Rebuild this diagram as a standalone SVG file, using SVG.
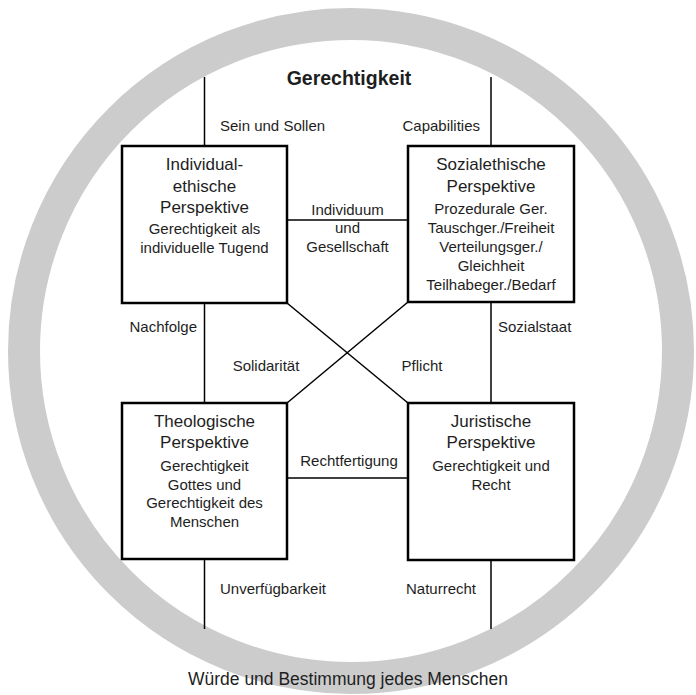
<svg xmlns="http://www.w3.org/2000/svg" width="696" height="695" viewBox="0 0 696 695">
<style>
text{font-family:"Liberation Sans",Arial,sans-serif;fill:#1e1e1e}
.t{font-size:17px;text-anchor:middle}
.s{font-size:15px;text-anchor:middle}
.l{font-size:15px}
.box{fill:#fff;stroke:#000;stroke-width:2.5}
.c{stroke:#000;stroke-width:1.5;fill:none}
</style>
<circle id="ring" cx="351" cy="351" r="327" fill="none" stroke="#cccccc" stroke-width="32"/>
<g id="connectors">
<line class="c" x1="204.5" y1="77" x2="204.5" y2="146"/>
<line class="c" x1="491" y1="77" x2="491" y2="146"/>
<line class="c" x1="204.5" y1="303" x2="204.5" y2="403"/>
<line class="c" x1="491" y1="303" x2="491" y2="403"/>
<line class="c" x1="204.5" y1="559" x2="204.5" y2="629"/>
<line class="c" x1="491" y1="560" x2="491" y2="629"/>
<line class="c" x1="287" y1="220" x2="408" y2="220"/>
<line class="c" x1="287" y1="478" x2="408" y2="478"/>
<line class="c" x1="287" y1="303" x2="408" y2="403"/>
<line class="c" x1="408" y1="302" x2="287" y2="403"/>
</g>
<g id="labels">
<text x="349" y="85" style="font-size:19.5px;font-weight:bold;text-anchor:middle">Gerechtigkeit</text>
<text class="l" x="220" y="131">Sein und Sollen</text>
<text class="l" x="480" y="131" text-anchor="end">Capabilities</text>
<text class="s" x="347.5" y="215">Individuum</text>
<text class="s" x="347.5" y="233">und</text>
<text class="s" x="347.5" y="252">Gesellschaft</text>
<text class="l" x="197" y="332" text-anchor="end">Nachfolge</text>
<text class="l" x="498" y="332">Sozialstaat</text>
<text class="s" x="266" y="371">Solidarität</text>
<text class="s" x="422" y="371">Pflicht</text>
<text class="s" x="349" y="466">Rechtfertigung</text>
<text class="l" x="220" y="594">Unverfügbarkeit</text>
<text class="l" x="476" y="594" text-anchor="end">Naturrecht</text>
<text x="348" y="685" style="font-size:17.5px;text-anchor:middle">Würde und Bestimmung jedes Menschen</text>
</g>
<g id="individual">
<rect class="box" x="122" y="146" width="165" height="157"/>
<text class="t" x="204.5" y="170">Individual-</text>
<text class="t" x="204.5" y="191.5">ethische</text>
<text class="t" x="204.5" y="213">Perspektive</text>
<text class="s" x="204.5" y="234">Gerechtigkeit als</text>
<text class="s" x="204.5" y="253">individuelle Tugend</text>
</g>
<g id="social">
<rect class="box" x="408" y="146" width="166" height="156"/>
<text class="t" x="491" y="170">Sozialethische</text>
<text class="t" x="491" y="191.5">Perspektive</text>
<text class="s" x="491" y="213.5">Prozedurale Ger.</text>
<text class="s" x="491" y="232.5">Tauschger./Freiheit</text>
<text class="s" x="491" y="251.5">Verteilungsger./</text>
<text class="s" x="491" y="270.5">Gleichheit</text>
<text class="s" x="491" y="289.5">Teilhabeger./Bedarf</text>
</g>
<g id="theological">
<rect class="box" x="122" y="403" width="165" height="156"/>
<text class="t" x="204.5" y="427">Theologische</text>
<text class="t" x="204.5" y="448">Perspektive</text>
<text class="s" x="204.5" y="471">Gerechtigkeit</text>
<text class="s" x="204.5" y="489.5">Gottes und</text>
<text class="s" x="204.5" y="508">Gerechtigkeit des</text>
<text class="s" x="204.5" y="526.5">Menschen</text>
</g>
<g id="juristic">
<rect class="box" x="408" y="403" width="166" height="157"/>
<text class="t" x="491" y="427">Juristische</text>
<text class="t" x="491" y="448">Perspektive</text>
<text class="s" x="491" y="471">Gerechtigkeit und</text>
<text class="s" x="491" y="490">Recht</text>
</g>
</svg>
